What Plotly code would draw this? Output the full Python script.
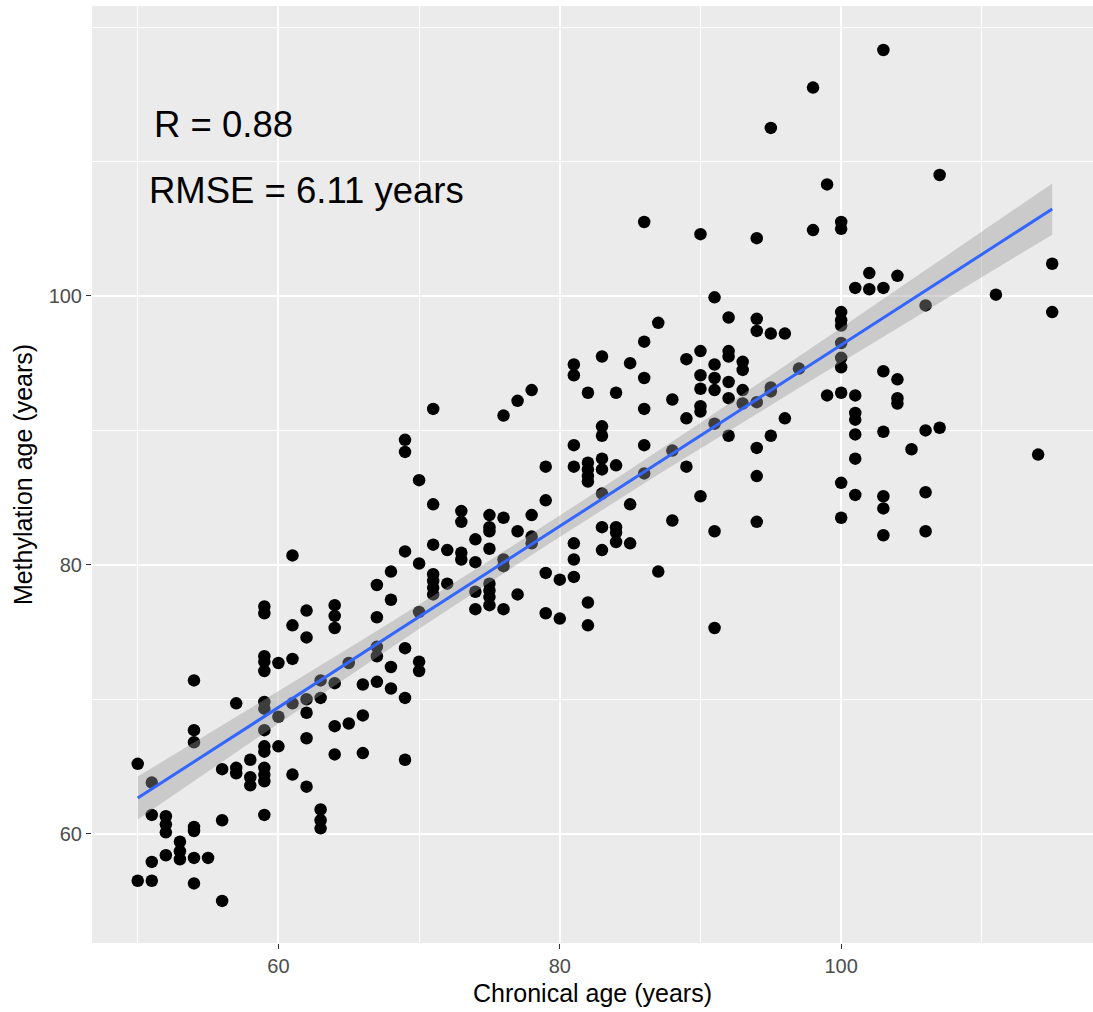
import numpy as np
import plotly.graph_objects as go

# Chronological age (x) and methylation age (y)
ages = {
    50: [65.2, 56.5],
    51: [63.8, 61.4, 57.9, 56.5],
    52: [61.3, 60.7, 60.1, 58.4],
    53: [59.4, 58.7, 58.1],
    54: [71.4, 67.7, 66.8, 60.5, 60.2, 58.2, 56.3],
    55: [58.2],
    56: [64.8, 61.0, 55.0],
    57: [69.7, 64.9, 64.5],
    58: [65.5, 64.2, 63.6],
    59: [76.9, 76.4, 73.2, 72.8, 72.1, 69.8, 69.3, 67.7, 66.5, 66.1, 64.9, 64.4, 63.9, 61.4],
    60: [72.7, 68.7, 66.5],
    61: [80.7, 75.5, 73.0, 69.7, 64.4],
    62: [76.6, 74.6, 70.0, 69.0, 67.1, 63.5],
    63: [71.4, 70.1, 61.8, 61.0, 60.4],
    64: [77.0, 76.2, 75.3, 71.2, 68.0, 65.9],
    65: [72.7, 68.2],
    66: [71.1, 68.8, 66.0],
    67: [78.5, 76.1, 73.9, 73.2, 71.3],
    68: [79.5, 77.4, 72.4, 70.8],
    69: [89.3, 88.4, 81.0, 73.8, 70.1, 65.5],
    70: [86.3, 80.1, 76.5, 72.8, 72.1],
    71: [91.6, 84.5, 81.5, 79.3, 78.8, 78.3, 77.8],
    72: [81.1, 78.6],
    73: [84.0, 83.2, 80.9, 80.4],
    74: [81.9, 80.2, 78.0, 76.7],
    75: [83.7, 82.8, 82.5, 81.2, 78.6, 78.1, 77.6, 77.0],
    76: [91.1, 83.5, 80.4, 79.9, 76.7],
    77: [92.2, 82.5, 77.8],
    78: [93.0, 83.7, 82.1, 81.6],
    79: [87.3, 84.8, 79.4, 76.4],
    80: [78.9, 76.0],
    81: [94.9, 94.1, 88.9, 87.3, 81.6, 80.4, 79.1],
    82: [92.8, 87.6, 87.1, 86.6, 86.2, 77.2, 75.5],
    83: [95.5, 90.3, 89.6, 87.9, 87.1, 85.3, 82.8, 81.1],
    84: [92.8, 87.4, 82.8, 82.4, 81.7],
    85: [95.0, 84.5, 81.6],
    86: [105.5, 96.6, 93.9, 91.6, 88.9, 86.8],
    87: [98.0, 79.5],
    88: [92.3, 88.5, 83.3],
    89: [95.3, 90.9, 87.3],
    90: [104.6, 95.9, 94.1, 93.1, 91.8, 91.4, 85.1],
    91: [99.9, 94.9, 93.9, 93.0, 90.5, 82.5, 75.3],
    92: [98.4, 95.9, 95.5, 93.6, 92.4, 89.6],
    93: [95.1, 94.5, 93.0, 92.0],
    94: [104.3, 98.3, 97.4, 92.1, 88.7, 86.6, 83.2],
    95: [112.5, 97.2, 93.2, 92.9, 89.6],
    96: [97.2, 90.9],
    97: [94.6],
    98: [115.5, 104.9],
    99: [108.3, 92.6],
    100: [105.5, 105.0, 98.8, 98.2, 97.8, 96.5, 95.4, 94.7, 92.8, 86.1, 83.5],
    101: [100.6, 92.6, 91.3, 90.8, 89.7, 87.9, 85.2],
    102: [101.7, 100.5],
    103: [118.3, 100.6, 94.4, 89.9, 85.1, 84.2, 82.2],
    104: [101.5, 93.8, 92.4, 92.0],
    105: [88.6],
    106: [99.3, 90.0, 85.4, 82.5],
    107: [109.0, 90.2],
    111: [100.1],
    114: [88.2],
    115: [102.4, 98.8],
}

chron_age = [a for a, vals in ages.items() for _ in vals]
meth_age = [v for vals in ages.values() for v in vals]

x_tick_vals = [60, 80, 100]
y_tick_vals = [60, 80, 100]
annot_r = "R = 0.88"
annot_rmse = "RMSE = 6.11 years"

x = np.array(chron_age, dtype=float)
y = np.array(meth_age, dtype=float)
n = len(x)
slope, intercept = np.polyfit(x, y, 1)
resid = y - (slope * x + intercept)
s = np.sqrt(np.sum(resid ** 2) / (n - 2))
xbar = x.mean()
sxx = np.sum((x - xbar) ** 2)
xs = np.linspace(x.min(), x.max(), 80)
ys = slope * xs + intercept
se = s * np.sqrt(1.0 / n + (xs - xbar) ** 2 / sxx)
tval = 1.97
lo = ys - tval * se
hi = ys + tval * se

fig = go.Figure()
fig.add_trace(go.Scatter(
    x=x, y=y, mode="markers",
    marker=dict(color="black", size=12.5, line=dict(width=0)),
    hoverinfo="skip", showlegend=False))
fig.add_trace(go.Scatter(
    x=np.concatenate([xs, xs[::-1]]), y=np.concatenate([hi, lo[::-1]]),
    fill="toself", fillcolor="rgba(153,153,153,0.4)", line=dict(width=0),
    mode="lines", hoverinfo="skip", showlegend=False))
fig.add_trace(go.Scatter(
    x=xs, y=ys, mode="lines", line=dict(color="#3366FF", width=3),
    hoverinfo="skip", showlegend=False))

font_main = "Liberation Sans, Arial, sans-serif"

fig.add_annotation(xref="paper", yref="paper", x=0.060, y=0.874,
                   xanchor="left", yanchor="middle", text=annot_r,
                   showarrow=False, font=dict(family=font_main, size=36.5, color="black"))
fig.add_annotation(xref="paper", yref="paper", x=0.0545, y=0.803,
                   xanchor="left", yanchor="middle", text=annot_rmse,
                   showarrow=False, font=dict(family=font_main, size=36.5, color="black"))

axis_common = dict(
    showgrid=True, gridcolor="white", gridwidth=2,
    zeroline=False, showline=False,
    ticks="outside", ticklen=5, tickwidth=1.2, tickcolor="#333333",
    tickfont=dict(family=font_main, size=20, color="#4D4D4D"),
    minor=dict(dtick=10, tick0=0, showgrid=True, gridcolor="white", gridwidth=1, ticks=""),
)

fig.update_layout(
    width=1093, height=1012,
    margin=dict(l=92, r=0, t=6, b=69, autoexpand=False),
    paper_bgcolor="white", plot_bgcolor="#EBEBEB",
    font=dict(family=font_main),
    xaxis=dict(range=[46.75, 117.9], tickmode="array", tickvals=x_tick_vals,
               automargin=False,
               title=dict(text="Chronical age (years)", font=dict(family=font_main, size=25, color="black"), standoff=8),
               **axis_common),
    yaxis=dict(range=[51.87, 121.57], tickmode="array", tickvals=y_tick_vals,
               automargin=False,
               title=dict(text="Methylation age (years)", font=dict(family=font_main, size=25, color="black"), standoff=8),
               **axis_common),
)

fig.write_html("out.html",
               config={"displayModeBar": False},
               post_script="document.body.style.margin='0';document.body.style.overflow='hidden';")
